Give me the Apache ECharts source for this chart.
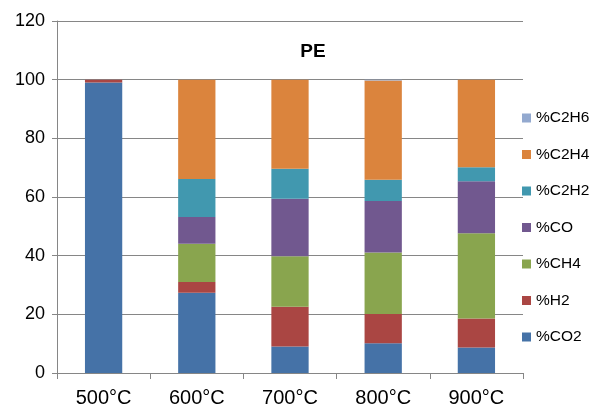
<!DOCTYPE html>
<html>
<head>
<meta charset="utf-8">
<script src="https://cdn.jsdelivr.net/npm/echarts@6/dist/echarts.min.js"></script>
<style>html,body{margin:0;padding:0;background:#fff;}#c{width:599px;height:408px;}</style>
</head>
<body>
<div id="c"></div>
<script>
var categories = ['500°C', '600°C', '700°C', '800°C', '900°C'];
var CO2  = [99.0, 27.4, 9.0, 10.1, 8.7];
var H2   = [1.0, 3.6, 13.6, 10.0, 9.9];
var CH4  = [0, 13.1, 17.2, 21.0, 29.0];
var CO   = [0, 9.1, 19.6, 17.5, 17.8];
var C2H2 = [0, 12.9, 10.2, 7.3, 4.7];
var C2H4 = [0, 33.9, 30.4, 33.8, 29.9];
var C2H6 = [0, 0, 0, 0.3, 0];
var yTicks = [0, 20, 40, 60, 80, 100, 120];

var names = ['%CO2', '%H2', '%CH4', '%CO', '%C2H2', '%C2H4', '%C2H6'];
var datas = [CO2, H2, CH4, CO, C2H2, C2H4, C2H6];
var colors = ['#4572A7', '#AA4643', '#89A54E', '#71588F', '#4198AF', '#DB843D', '#93A9CF'];

var series = names.map(function (n, i) {
  return {
    name: n, type: 'bar', stack: 'total', data: datas[i],
    barWidth: '40%',
    itemStyle: { color: colors[i] }
  };
});

var chart = echarts.init(document.getElementById('c'), null, { renderer: 'canvas' });
chart.setOption({
  animation: false,
  backgroundColor: '#fff',
  title: {
    text: 'PE', left: 308, top: 37, textAlign: 'center',
    textStyle: { fontFamily: 'Liberation Sans, Arial', fontSize: 19, fontWeight: 'bold', color: '#000' }
  },
  legend: {
    data: names.slice().reverse(),
    orient: 'vertical', left: 522, top: 110, padding: 0,
    itemWidth: 9, itemHeight: 9, itemGap: 20.5,
    icon: 'rect',
    textStyle: { fontFamily: 'Liberation Sans, Arial', fontSize: 15.5, color: '#000', lineHeight: 16, padding: [0, 0, 0, 0] }
  },
  grid: { left: 57, right: 76, top: 21, bottom: 34, containLabel: false },
  xAxis: {
    type: 'category', data: categories,
    axisLine: { lineStyle: { color: '#868686', width: 1 } },
    axisTick: { show: true, interval: 0, length: 6, lineStyle: { color: '#868686' } },
    axisLabel: { fontFamily: 'Liberation Sans, Arial', fontSize: 20, color: '#000', margin: 15 }
  },
  yAxis: {
    type: 'value', min: yTicks[0], max: yTicks[yTicks.length - 1], interval: 20,
    axisLine: { show: true, lineStyle: { color: '#868686', width: 1 } },
    axisTick: { show: true, length: 5, lineStyle: { color: '#868686' } },
    splitLine: { lineStyle: { color: '#868686', width: 1 } },
    axisLabel: { fontFamily: 'Liberation Sans, Arial', fontSize: 18, color: '#000', margin: 12 }
  },
  series: series
});
</script>
</body>
</html>
